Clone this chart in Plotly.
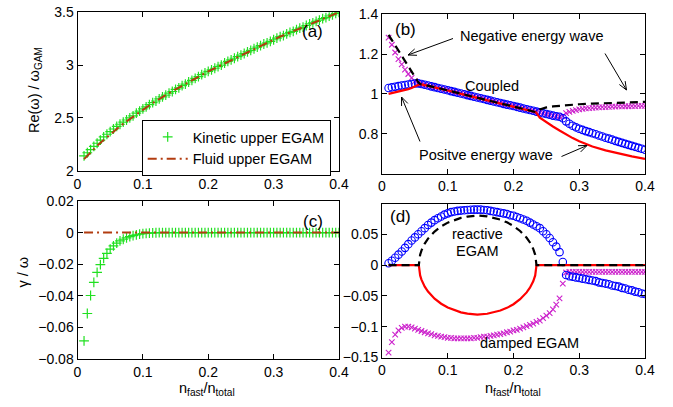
import numpy as np
import plotly.graph_objects as go

# ---------------- data ----------------
# kinetic sampling grid n_fast/n_total = 0.01 ... 0.40 (step 0.005)
x_kin = np.round(np.arange(0.01, 0.40001, 0.005), 3)

# (a) Re(omega)/omega_GAM, kinetic upper EGAM
kin_upper_re = [2.14, 2.17, 2.20, 2.23, 2.26, 2.29, 2.32, 2.345, 2.37, 2.395,
                2.42, 2.44, 2.46, 2.48, 2.50, 2.52, 2.545, 2.565, 2.585, 2.605,
                2.625, 2.645, 2.66, 2.68, 2.70, 2.715, 2.735, 2.75, 2.77, 2.785,
                2.805, 2.82, 2.84, 2.855, 2.875, 2.89, 2.91, 2.925, 2.94, 2.955,
                2.97, 2.985, 3.00, 3.02, 3.035, 3.05, 3.065, 3.08, 3.095, 3.11,
                3.125, 3.14, 3.155, 3.17, 3.185, 3.20, 3.21, 3.225, 3.24, 3.255,
                3.27, 3.28, 3.295, 3.31, 3.32, 3.335, 3.35, 3.36, 3.375, 3.39,
                3.40, 3.415, 3.425, 3.44, 3.45, 3.465, 3.475, 3.49, 3.50]

# fluid grid (step 0.01)
x_fluid = [0.01, 0.02, 0.03, 0.04, 0.05, 0.06, 0.07, 0.08, 0.09, 0.10,
           0.11, 0.12, 0.13, 0.14, 0.15, 0.16, 0.17, 0.18, 0.19, 0.20,
           0.21, 0.22, 0.23, 0.24, 0.25, 0.26, 0.27, 0.28, 0.29, 0.30,
           0.31, 0.32, 0.33, 0.34, 0.35, 0.36, 0.37, 0.38, 0.39, 0.40]
fluid_upper_re = [2.11, 2.175, 2.235, 2.29, 2.345, 2.395, 2.445, 2.49, 2.535, 2.578,
                  2.62, 2.66, 2.70, 2.735, 2.77, 2.805, 2.84, 2.875, 2.91, 2.94,
                  2.97, 3.00, 3.035, 3.065, 3.095, 3.125, 3.155, 3.185, 3.21, 3.24,
                  3.27, 3.295, 3.32, 3.35, 3.375, 3.40, 3.425, 3.45, 3.475, 3.50]

# (c) gamma/omega, kinetic upper EGAM
kin_upper_gam = [-0.0685, -0.0512, -0.0398, -0.0315, -0.0252, -0.0203, -0.0163, -0.0131,
                 -0.0105, -0.0084, -0.0067, -0.0053, -0.0042, -0.0033, -0.0025, -0.0019,
                 -0.0014, -0.0010, -0.0007, -0.0005, -0.0003, -0.0002, -0.0001,
                 0, 0, 0, 0, 0, 0, 0, 0, 0, 0, 0, 0, 0, 0, 0, 0, 0, 0, 0, 0, 0, 0,
                 0, 0, 0, 0, 0, 0, 0, 0, 0, 0, 0, 0, 0, 0, 0, 0, 0, 0, 0, 0, 0, 0,
                 0, 0, 0, 0, 0, 0, 0, 0, 0, 0, 0, 0]
fluid_upper_gam = [0.0] * 40

# (b) Re(omega)/omega_GAM, lower branches, kinetic
kin_pos_re = [1.030, 1.033, 1.036, 1.039, 1.042, 1.045, 1.047, 1.050, 1.052, 1.053,
              1.050, 1.046, 1.042, 1.038, 1.034, 1.030, 1.026, 1.022, 1.018, 1.014,
              1.010, 1.006, 1.002, 0.998, 0.994, 0.990, 0.986, 0.982, 0.978, 0.974,
              0.970, 0.966, 0.962, 0.958, 0.954, 0.950, 0.946, 0.943, 0.939, 0.935,
              0.931, 0.927, 0.923, 0.919, 0.915, 0.911, 0.907, 0.903, 0.899, 0.895,
              0.891, 0.888, 0.885, 0.878, 0.862, 0.850, 0.840, 0.832, 0.825, 0.819,
              0.813, 0.808, 0.802, 0.797, 0.791, 0.786, 0.780, 0.775, 0.770, 0.764,
              0.759, 0.754, 0.749, 0.744, 0.739, 0.734, 0.729, 0.724, 0.719]
kin_neg_re = [1.283, 1.247, 1.208, 1.175, 1.148, 1.122, 1.100, 1.080, 1.064, 1.053,
              1.050, 1.046, 1.042, 1.038, 1.034, 1.030, 1.026, 1.022, 1.018, 1.014,
              1.010, 1.006, 1.002, 0.998, 0.994, 0.990, 0.986, 0.982, 0.978, 0.974,
              0.970, 0.966, 0.962, 0.958, 0.954, 0.950, 0.946, 0.943, 0.939, 0.935,
              0.931, 0.927, 0.923, 0.919, 0.915, 0.911, 0.907, 0.903, 0.899, 0.895,
              0.891, 0.888, 0.885, 0.890, 0.903, 0.910, 0.915, 0.919, 0.922, 0.925,
              0.927, 0.929, 0.930, 0.931, 0.932, 0.933, 0.934, 0.935, 0.936, 0.936,
              0.937, 0.937, 0.938, 0.938, 0.939, 0.939, 0.940, 0.940, 0.940]

# (b) fluid branches
x_fl_neg_re = [0.01, 0.02, 0.03, 0.04, 0.05, 0.055, 0.058, 0.06, 0.08, 0.10, 0.12, 0.14,
               0.16, 0.18, 0.20, 0.22, 0.234, 0.24, 0.25, 0.26, 0.28, 0.30, 0.32, 0.34,
               0.36, 0.38, 0.40]
fl_neg_re = [1.297, 1.243, 1.190, 1.136, 1.083, 1.060, 1.050, 1.048, 1.034, 1.017, 1.000,
             0.984, 0.968, 0.952, 0.937, 0.921, 0.908, 0.922, 0.932, 0.937, 0.943, 0.948,
             0.951, 0.954, 0.956, 0.958, 0.960]
x_fl_pos_re = [0.01, 0.02, 0.03, 0.04, 0.045, 0.05, 0.055, 0.058, 0.06, 0.08, 0.10, 0.12,
               0.14, 0.16, 0.18, 0.20, 0.22, 0.234, 0.24, 0.25, 0.26, 0.27, 0.28, 0.29,
               0.30, 0.31, 0.32, 0.34, 0.36, 0.38, 0.40]
fl_pos_re = [1.000, 1.007, 1.015, 1.024, 1.030, 1.037, 1.045, 1.050, 1.048, 1.034, 1.017,
             1.000, 0.984, 0.968, 0.952, 0.937, 0.921, 0.908, 0.880, 0.857, 0.836, 0.816,
             0.796, 0.778, 0.762, 0.748, 0.736, 0.716, 0.700, 0.686, 0.673]

# (d) gamma/omega, kinetic lower branches
kin_pos_gam = [0.003, 0.007, 0.012, 0.017, 0.022, 0.028, 0.034, 0.040, 0.045, 0.050,
               0.055, 0.060, 0.065, 0.069, 0.073, 0.076, 0.079, 0.082, 0.084, 0.086,
               0.087, 0.088, 0.0885, 0.089, 0.0895, 0.0898, 0.090, 0.090, 0.090, 0.0895,
               0.089, 0.088, 0.087, 0.086, 0.085, 0.084, 0.083, 0.081, 0.080, 0.078,
               0.076, 0.074, 0.072, 0.069, 0.066, 0.063, 0.060, 0.055, 0.050, 0.044,
               0.037, 0.030, 0.021, 0.005, -0.016, -0.018, -0.019, -0.020, -0.021, -0.022,
               -0.023, -0.024, -0.025, -0.026, -0.028, -0.029, -0.030, -0.031, -0.033, -0.034,
               -0.035, -0.037, -0.038, -0.040, -0.041, -0.043, -0.044, -0.046, -0.047]
kin_neg_gam = [-0.142, -0.125, -0.113, -0.106, -0.102, -0.100, -0.100, -0.101, -0.103, -0.105,
               -0.107, -0.109, -0.111, -0.112, -0.114, -0.115, -0.116, -0.117, -0.118, -0.118,
               -0.119, -0.119, -0.119, -0.119, -0.119, -0.119, -0.118, -0.118, -0.117, -0.116,
               -0.116, -0.115, -0.114, -0.113, -0.112, -0.111, -0.109, -0.108, -0.106, -0.105,
               -0.103, -0.101, -0.099, -0.097, -0.095, -0.092, -0.090, -0.086, -0.082, -0.078,
               -0.072, -0.064, -0.054, -0.030, -0.012, -0.011, -0.011, -0.011, -0.011, -0.011,
               -0.011, -0.011, -0.011, -0.011, -0.011, -0.011, -0.011, -0.011, -0.011, -0.011,
               -0.011, -0.011, -0.011, -0.011, -0.011, -0.011, -0.011, -0.011, -0.011]

# (d) fluid branches
x_fl_gam = [0.01, 0.056, 0.058, 0.06, 0.065, 0.07, 0.08, 0.09, 0.10, 0.11, 0.12, 0.13,
            0.145, 0.16, 0.17, 0.18, 0.19, 0.20, 0.21, 0.22, 0.225, 0.23, 0.233, 0.235, 0.40]
fl_reactive_gam = [0.0, 0.0, 0.0168, 0.0236, 0.035, 0.043, 0.0545, 0.0627, 0.0689, 0.0734,
                   0.0767, 0.0788, 0.0805, 0.079, 0.077, 0.0738, 0.0694, 0.0635, 0.0554,
                   0.0443, 0.0367, 0.0264, 0.0167, 0.0, 0.0]
fl_damped_gam = [0.0, 0.0, -0.0168, -0.0236, -0.035, -0.043, -0.0545, -0.0627, -0.0689,
                 -0.0734, -0.0767, -0.0788, -0.0805, -0.079, -0.077, -0.0738, -0.0694,
                 -0.0635, -0.0554, -0.0443, -0.0367, -0.0264, -0.0167, 0.0, 0.0]

x_ticks = [0, 0.1, 0.2, 0.3, 0.4]
x_ticktext = ["0", "0.1", "0.2", "0.3", "0.4"]
ya_ticks = [2, 2.5, 3, 3.5]
yb_ticks = [0.8, 1, 1.2, 1.4]
yc_ticks = [-0.08, -0.06, -0.04, -0.02, 0, 0.02]
yd_ticks = [-0.15, -0.1, -0.05, 0, 0.05]

# ---------------- style ----------------
W, H = 673, 407
FONT = "Liberation Sans, Arial, Helvetica, sans-serif"
GREEN = "#20e020"
BROWN = "#b23c10"
BLUE = "#0000ff"
MAG = "#cc22cc"
RED = "#ff0000"


def px(x):
    return x / W


def py(y):
    return 1 - y / H


fig = go.Figure()

# (a)
fig.add_trace(go.Scatter(x=x_kin, y=kin_upper_re, mode="markers", name="Kinetic upper EGAM",
                         marker=dict(symbol="cross-thin", size=7, color=GREEN,
                                     line=dict(width=1.2, color=GREEN)),
                         xaxis="x", yaxis="y"))
fig.add_trace(go.Scatter(x=x_fluid, y=fluid_upper_re, mode="lines", name="Fluid upper EGAM",
                         line=dict(color=BROWN, width=2, dash="9px,4px,2px,4px"),
                         xaxis="x", yaxis="y"))
# (c)
fig.add_trace(go.Scatter(x=x_kin, y=kin_upper_gam, mode="markers", showlegend=False,
                         marker=dict(symbol="cross-thin", size=7, color=GREEN,
                                     line=dict(width=1.2, color=GREEN)),
                         xaxis="x3", yaxis="y3"))
fig.add_trace(go.Scatter(x=x_fluid, y=fluid_upper_gam, mode="lines", showlegend=False,
                         line=dict(color=BROWN, width=2, dash="9px,4px,2px,4px"),
                         xaxis="x3", yaxis="y3"))

# (b) and (d)
for xa, ya, pos, neg, xr, rr, xd, dd in [
        ("x2", "y2", kin_pos_re, kin_neg_re, x_fl_pos_re, fl_pos_re, x_fl_neg_re, fl_neg_re),
        ("x4", "y4", kin_pos_gam, kin_neg_gam, x_fl_gam, fl_damped_gam, x_fl_gam, fl_reactive_gam)]:
    fig.add_trace(go.Scatter(x=x_kin, y=neg, mode="markers", showlegend=False,
                             marker=dict(symbol="x-thin", size=5.5, color=MAG,
                                         line=dict(width=1.1, color=MAG)),
                             xaxis=xa, yaxis=ya))
    fig.add_trace(go.Scatter(x=x_kin, y=pos, mode="markers", showlegend=False,
                             marker=dict(symbol="circle-open", size=7.5, color=BLUE,
                                         line=dict(width=1.1, color=BLUE)),
                             xaxis=xa, yaxis=ya))
    fig.add_trace(go.Scatter(x=xr, y=rr, mode="lines", showlegend=False,
                             line=dict(color=RED, width=2.2),
                             xaxis=xa, yaxis=ya))
    fig.add_trace(go.Scatter(x=xd, y=dd, mode="lines", showlegend=False,
                             line=dict(color="black", width=2.2, dash="8px,5px"),
                             xaxis=xa, yaxis=ya))

# ---------------- axes ----------------
dom_left = [px(77.5), px(339)]
dom_right = [px(382), px(645)]
axis_common = dict(showline=True, linecolor="black", linewidth=1, mirror="ticks",
                   ticks="inside", ticklen=5, tickcolor="black", tickwidth=1,
                   showgrid=False, zeroline=False, automargin=False,
                   tickfont=dict(family=FONT, size=14, color="black"))

fig.update_layout(
    xaxis=dict(domain=dom_left, range=[0, 0.4], tickvals=x_ticks, ticktext=x_ticktext,
               anchor="y", **axis_common),
    yaxis=dict(domain=[py(170.7), py(12.3)], range=[2, 3.5], tickvals=ya_ticks,
               ticktext=["2", "2.5", "3", "3.5"], anchor="x", **axis_common),
    xaxis2=dict(domain=dom_right, range=[0, 0.4], tickvals=x_ticks, ticktext=x_ticktext,
                anchor="y2", **axis_common),
    yaxis2=dict(domain=[py(173.5), py(14.3)], range=[0.6, 1.4], tickvals=yb_ticks,
                ticktext=["0.8", "1", "1.2", "1.4"], anchor="x2", **axis_common),
    xaxis3=dict(domain=dom_left, range=[0, 0.4], tickvals=x_ticks, ticktext=x_ticktext,
                anchor="y3", **axis_common),
    yaxis3=dict(domain=[py(359), py(201)], range=[-0.08, 0.02], tickvals=yc_ticks,
                ticktext=["\u22120.08", "\u22120.06", "\u22120.04", "\u22120.02", "0", "0.02"],
                anchor="x3", **axis_common),
    xaxis4=dict(domain=dom_right, range=[0, 0.4], tickvals=x_ticks, ticktext=x_ticktext,
                anchor="y4", **axis_common),
    yaxis4=dict(domain=[py(357.5), py(203.5)], range=[-0.15, 0.1], tickvals=yd_ticks,
                ticktext=["\u22120.15", "\u22120.1", "\u22120.05", "0", "0.05"],
                anchor="x4", **axis_common),
)

# ---------------- text ----------------
ann = []


def txt(x, y, s, size=14.5, angle=0):
    ann.append(dict(x=px(x), y=py(y), xref="paper", yref="paper", text=s, showarrow=False,
                    xanchor="center", yanchor="middle", textangle=angle,
                    font=dict(family=FONT, size=size, color="black")))


txt(312.5, 31.5, "(a)", 17)
txt(405, 29.5, "(b)", 17)
txt(312.5, 221, "(c)", 17)
txt(400.5, 216.5, "(d)", 17)
txt(35, 90, "Re(\u03c9) / \u03c9<sub>GAM</sub>", 14.5, -90)
txt(22.5, 272, "\u03b3 / \u03c9", 14.5, -90)
txt(207, 389, "n<sub>fast</sub>/n<sub>total</sub>", 14.5)
txt(513, 389, "n<sub>fast</sub>/n<sub>total</sub>", 14.5)
txt(531.5, 35.5, "Negative energy wave")
txt(492.5, 86, "Coupled")
txt(486, 155, "Positve energy wave")
txt(477.5, 234, "reactive")
txt(477.5, 251, "EGAM")
txt(529, 343, "damped EGAM")

# arrows (open V heads)
shapes = []


def arrow(x0, y0, x1, y1, L=9, ang=22):
    d = np.array([x0 - x1, y0 - y1], dtype=float)
    d /= np.hypot(*d)
    pts = []
    for s in (1, -1):
        a = np.radians(ang * s)
        r = np.array([d[0] * np.cos(a) - d[1] * np.sin(a), d[0] * np.sin(a) + d[1] * np.cos(a)])
        pts.append((x1 + L * r[0], y1 + L * r[1]))
    path = (f"M {px(x0)} {py(y0)} L {px(x1)} {py(y1)} "
            f"M {px(pts[0][0])} {py(pts[0][1])} L {px(x1)} {py(y1)} "
            f"L {px(pts[1][0])} {py(pts[1][1])}")
    shapes.append(dict(type="path", xref="paper", yref="paper", path=path,
                       line=dict(color="black", width=1)))


arrow(453, 38.5, 408, 55)
arrow(605, 53.5, 626.5, 90)
arrow(420, 141.5, 401.5, 97)
arrow(561.5, 156.5, 587, 145.5)

fig.update_layout(
    width=W, height=H, autosize=False,
    margin=dict(l=0, r=0, t=0, b=0),
    paper_bgcolor="white", plot_bgcolor="white",
    font=dict(family=FONT, size=14, color="black"),
    annotations=ann, shapes=shapes,
    legend=dict(x=px(141.7), y=py(120), xanchor="left", yanchor="top",
                bgcolor="white", bordercolor="black", borderwidth=1,
                font=dict(family=FONT, size=14.5, color="black"),
                itemwidth=40, tracegroupgap=0),
)

fig.write_html("out.html",
               config={"displayModeBar": False},
               post_script="document.body.style.margin='0px';"
                           "document.body.style.overflow='hidden';")
